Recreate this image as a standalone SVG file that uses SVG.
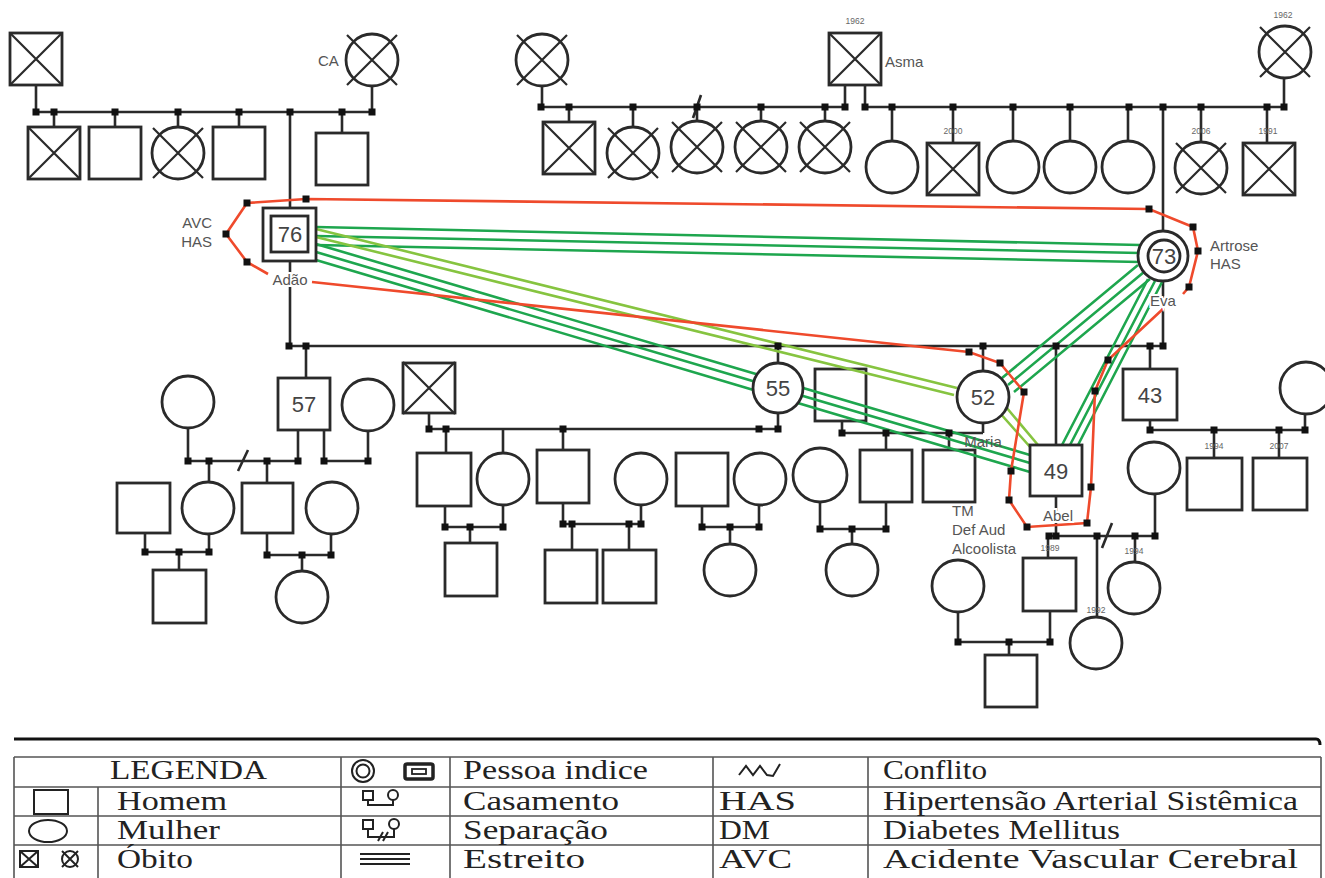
<svg xmlns="http://www.w3.org/2000/svg" width="1325" height="878" viewBox="0 0 1325 878">
<style>
.n{fill:#fff;stroke:#2a2a2a;stroke-width:2.8}
.x{fill:none;stroke:#2a2a2a;stroke-width:2.2}
.k{fill:none;stroke:#2a2a2a;stroke-width:2.6}
.dg{fill:none;stroke:#1ea64e;stroke-width:2.6}
.lg{fill:none;stroke:#86c440;stroke-width:2.6}
.rd{fill:none;stroke:#ef4a2c;stroke-width:2.6}
.d{fill:#111}
.num{font-family:"Liberation Sans",Arial,sans-serif;font-size:22px;fill:#444;text-anchor:middle}
.lb{font-family:"Liberation Sans",Arial,sans-serif;font-size:15px;fill:#555}
.nm{text-anchor:middle;paint-order:stroke;stroke:#fff;stroke-width:4px}
.yr{font-family:"Liberation Sans",Arial,sans-serif;font-size:8.5px;fill:#666;text-anchor:middle}
.tb{fill:none;stroke:#555;stroke-width:1.6}
.lt{font-family:"Liberation Serif","Times New Roman",serif;font-size:27px;fill:#222}
.ls{fill:none;stroke:#222;stroke-width:2}
</style>
<defs>
<rect id="dt" x="-3.5" y="-3.5" width="7" height="7"/>
<path id="xs" d="M-26,-26L26,26M26,-26L-26,26"/>
<path id="xc" d="M-25,-25L25,25M25,-25L-25,25"/>
</defs>

<!-- top-left family -->
<g id="tl-father"><rect class="n" x="10" y="33" width="52" height="52"/><use href="#xs" class="x" x="36" y="59"/></g>
<g id="tl-mother"><circle class="n" cx="372" cy="60" r="26"/><use href="#xc" class="x" x="372" y="60"/></g>
<g id="tl-c1"><rect class="n" x="28" y="127" width="52" height="52"/><use href="#xs" class="x" x="54" y="153"/></g>
<g id="tl-c2"><rect class="n" x="89" y="127" width="52" height="52"/></g>
<g id="tl-c3"><circle class="n" cx="178" cy="153" r="26"/><use href="#xc" class="x" x="178" y="153"/></g>
<g id="tl-c4"><rect class="n" x="213" y="127" width="52" height="52"/></g>
<g id="tl-c5"><rect class="n" x="316" y="133" width="52" height="52"/></g>

<!-- top-middle family -->
<g id="tm-mother"><circle class="n" cx="542" cy="60" r="26"/><use href="#xc" class="x" x="542" y="60"/></g>
<g id="tm-asma"><rect class="n" x="829" y="33" width="52" height="52"/><use href="#xs" class="x" x="855" y="59"/></g>
<g id="tm-c1"><rect class="n" x="543" y="122" width="52" height="52"/><use href="#xs" class="x" x="569" y="148"/></g>
<g id="tm-c2"><circle class="n" cx="633" cy="153" r="26"/><use href="#xc" class="x" x="633" y="153"/></g>
<g id="tm-c3"><circle class="n" cx="697" cy="147" r="26"/><use href="#xc" class="x" x="697" y="147"/></g>
<g id="tm-c4"><circle class="n" cx="761" cy="147" r="26"/><use href="#xc" class="x" x="761" y="147"/></g>
<g id="tm-c5"><circle class="n" cx="825" cy="147" r="26"/><use href="#xc" class="x" x="825" y="147"/></g>

<!-- top-right family -->
<g id="tr-mother"><circle class="n" cx="1285" cy="52" r="26"/><use href="#xc" class="x" x="1285" y="52"/></g>
<g id="tr-c1"><circle class="n" cx="892" cy="167" r="26"/></g>
<g id="tr-c2"><rect class="n" x="927" y="143" width="52" height="52"/><use href="#xs" class="x" x="953" y="169"/></g>
<g id="tr-c3"><circle class="n" cx="1013" cy="167" r="26"/></g>
<g id="tr-c4"><circle class="n" cx="1070" cy="167" r="26"/></g>
<g id="tr-c5"><circle class="n" cx="1128" cy="167" r="26"/></g>
<g id="tr-c6"><circle class="n" cx="1201" cy="168" r="26"/><use href="#xc" class="x" x="1201" y="168"/></g>
<g id="tr-c7"><rect class="n" x="1243" y="143" width="52" height="52"/><use href="#xs" class="x" x="1269" y="169"/></g>

<!-- 57 family -->
<g id="s57"><rect class="n" x="278" y="378" width="52" height="52"/><text class="num" x="304" y="412">57</text></g>
<g id="s57-w1"><circle class="n" cx="188" cy="402" r="26"/></g>
<g id="s57-w2"><circle class="n" cx="368" cy="405" r="26"/></g>
<g id="s57-d"><circle class="n" cx="208" cy="508" r="26"/></g>
<g id="s57-dh"><rect class="n" x="117" y="483" width="53" height="50"/></g>
<g id="s57-s"><rect class="n" x="242" y="483" width="51" height="50"/></g>
<g id="s57-sw"><circle class="n" cx="332" cy="508" r="26"/></g>
<g id="s57-gs"><rect class="n" x="153" y="570" width="53" height="53"/></g>
<g id="s57-gd"><circle class="n" cx="302" cy="597" r="26"/></g>

<!-- 55 family -->
<g id="d55-h"><rect class="n" x="403" y="363" width="52" height="50"/><use href="#xs" class="x" x="429" y="388"/></g>
<g id="d55-c1"><rect class="n" x="417" y="453" width="54" height="53"/></g>
<g id="d55-c1w"><circle class="n" cx="503" cy="479" r="26"/></g>
<g id="d55-c2"><rect class="n" x="537" y="450" width="52" height="53"/></g>
<g id="d55-c2w"><circle class="n" cx="641" cy="479" r="26"/></g>
<g id="d55-c3h"><rect class="n" x="676" y="453" width="52" height="53"/></g>
<g id="d55-c3"><circle class="n" cx="760" cy="479" r="26"/></g>
<g id="d55-g1"><rect class="n" x="445" y="543" width="52" height="53"/></g>
<g id="d55-g2"><rect class="n" x="545" y="550" width="52" height="53"/></g>
<g id="d55-g3"><rect class="n" x="603" y="550" width="53" height="53"/></g>
<g id="d55-g4"><circle class="n" cx="730" cy="570" r="26"/></g>

<!-- Maria family -->
<g id="d52-h"><rect class="n" x="815" y="369" width="51" height="52"/></g>
<g id="d52-c1"><rect class="n" x="860" y="450" width="52" height="52"/></g>
<g id="d52-c1w"><circle class="n" cx="820" cy="475" r="27"/></g>
<g id="d52-c2"><rect class="n" x="923" y="450" width="52" height="52"/></g>
<g id="d52-g1"><circle class="n" cx="852" cy="570" r="26"/></g>

<!-- Abel family -->
<g id="s49-w"><circle class="n" cx="1154" cy="468" r="26"/></g>
<g id="s49-c1"><rect class="n" x="1023" y="558" width="53" height="53"/></g>
<g id="s49-c1w"><circle class="n" cx="958" cy="586" r="26"/></g>
<g id="s49-c2"><circle class="n" cx="1096" cy="643" r="26"/></g>
<g id="s49-c3"><circle class="n" cx="1134" cy="588" r="26"/></g>
<g id="s49-g1"><rect class="n" x="985" y="655" width="52" height="52"/></g>

<!-- 43 family -->
<g id="s43"><rect class="n" x="1123" y="369" width="54" height="51"/><text class="num" x="1150" y="403">43</text></g>
<g id="s43-w"><circle class="n" cx="1306" cy="388" r="26"/></g>
<g id="s43-c1"><rect class="n" x="1187" y="458" width="55" height="52"/></g>
<g id="s43-c2"><rect class="n" x="1253" y="458" width="54" height="52"/></g>

<!-- connectors -->
<g id="connectors">
<path class="k" d="M36,85V112M372,86V112M36,112H372M54,112V127M115,112V127M178,112V127M239,112V127M342,112V133M290,112V208M290,261V346"/>
<path class="k" d="M542,86V107M541,107H845M845,85V107M865,85V107M569,107V122M633,107V127M697,107V121M761,107V121M825,107V121M693,118L701,95"/>
<path class="k" d="M865,107H1285M1284,78V107M892,107V141M953,107V143M1013,107V141M1070,107V141M1128,107V141M1163,107V231M1201,107V142M1267,107V143M1163,281V346"/>
<path class="k" d="M289,346H1163M306,346V378M778,346V363M983,346V371M1056,346V445M1150,346V369"/>
<path class="k" d="M298,430V461M324,430V461M188,428V461M368,431V461M188,461H298M324,461H368M209,461V482M267,461V483M238,471L248,450"/>
<path class="k" d="M145,533V552M209,534V552M145,552H209M179,552V570M267,533V555M331,534V555M267,555H331M302,555V571"/>
<path class="k" d="M429,413V429M778,413V429M429,429H778M446,429V453M503,429V453M563,429V450"/>
<path class="k" d="M445,506V527M503,505V527M445,527H503M470,527V543M563,503V524M641,505V524M563,524H641M572,524V550M629,524V550M702,506V527M759,505V527M702,527H759M730,527V544"/>
<path class="k" d="M842,421V433M983,423V433M842,433H983M886,433V450M949,433V450M820,502V529M886,502V529M820,529H886M852,529V544"/>
<path class="k" d="M1056,496V536M1047,536H1155M1155,494V536M1048,536V558M1097,536V617M1135,536V562M1102,548L1112,523M958,612V642M1050,611V642M958,642H1050M1009,642V655"/>
<path class="k" d="M1150,420V430M1150,430H1305M1305,414V430M1214,430V458M1279,430V458"/>

<!-- closeness (green) -->
<path class="dg" d="M316,227L1140,245M316,236L1140,253M316,245L1140,262"/>
<path class="lg" d="M316,229L957,388M316,237L954,395"/>
<path class="dg" d="M316,244L1030,455M316,252L1030,463M316,260L1030,472"/>
<path class="dg" d="M1138,265L1002,378M1144,272L1008,385M1150,279L1014,392"/>
<path class="dg" d="M1148,279L1062,445M1155,281L1070,445M1162,282L1078,445"/>
<path class="lg" d="M999,412L1031,448M1006,407L1038,445"/>

<!-- conflict (red) -->
<path class="rd" d="M268,274L247,262L226,234L247,203L306,199L1149,209L1193,227L1198,251L1189,287L1183,294"/>
<path class="rd" d="M312,282L969,352L1000,363L1024,392L1011,471L1009,500L1027,527L1087,523L1091,487L1095,391L1108,360L1164,308"/>

<g class="d">
<use href="#dt" x="36" y="112"/><use href="#dt" x="54" y="112"/><use href="#dt" x="115" y="112"/><use href="#dt" x="178" y="112"/><use href="#dt" x="239" y="112"/><use href="#dt" x="290" y="112"/><use href="#dt" x="342" y="112"/><use href="#dt" x="372" y="112"/>
<use href="#dt" x="541" y="107"/><use href="#dt" x="569" y="107"/><use href="#dt" x="633" y="107"/><use href="#dt" x="697" y="107"/><use href="#dt" x="761" y="107"/><use href="#dt" x="825" y="107"/><use href="#dt" x="845" y="107"/>
<use href="#dt" x="865" y="107"/><use href="#dt" x="892" y="107"/><use href="#dt" x="953" y="107"/><use href="#dt" x="1013" y="107"/><use href="#dt" x="1070" y="107"/><use href="#dt" x="1129" y="107"/><use href="#dt" x="1163" y="107"/><use href="#dt" x="1201" y="107"/><use href="#dt" x="1267" y="107"/><use href="#dt" x="1284" y="107"/>
<use href="#dt" x="289" y="346"/><use href="#dt" x="306" y="346"/><use href="#dt" x="778" y="346"/><use href="#dt" x="983" y="346"/><use href="#dt" x="1056" y="346"/><use href="#dt" x="1150" y="346"/><use href="#dt" x="1163" y="346"/>
<use href="#dt" x="188" y="461"/><use href="#dt" x="209" y="461"/><use href="#dt" x="267" y="461"/><use href="#dt" x="298" y="461"/><use href="#dt" x="324" y="461"/><use href="#dt" x="368" y="461"/>
<use href="#dt" x="145" y="552"/><use href="#dt" x="179" y="552"/><use href="#dt" x="209" y="552"/><use href="#dt" x="267" y="555"/><use href="#dt" x="302" y="555"/><use href="#dt" x="331" y="555"/>
<use href="#dt" x="429" y="429"/><use href="#dt" x="446" y="429"/><use href="#dt" x="563" y="429"/><use href="#dt" x="759" y="429"/><use href="#dt" x="778" y="429"/>
<use href="#dt" x="445" y="527"/><use href="#dt" x="470" y="527"/><use href="#dt" x="503" y="527"/><use href="#dt" x="702" y="527"/><use href="#dt" x="730" y="527"/><use href="#dt" x="759" y="527"/>
<use href="#dt" x="563" y="524"/><use href="#dt" x="572" y="524"/><use href="#dt" x="629" y="524"/><use href="#dt" x="641" y="524"/>
<use href="#dt" x="842" y="433"/><use href="#dt" x="886" y="433"/><use href="#dt" x="949" y="433"/><use href="#dt" x="820" y="529"/><use href="#dt" x="852" y="529"/><use href="#dt" x="886" y="529"/>
<use href="#dt" x="1049" y="536"/><use href="#dt" x="1056" y="536"/><use href="#dt" x="1097" y="536"/><use href="#dt" x="1135" y="536"/><use href="#dt" x="1155" y="536"/>
<use href="#dt" x="958" y="642"/><use href="#dt" x="1009" y="642"/><use href="#dt" x="1050" y="642"/>
<use href="#dt" x="1150" y="430"/><use href="#dt" x="1214" y="430"/><use href="#dt" x="1279" y="430"/><use href="#dt" x="1305" y="430"/>
<use href="#dt" x="247" y="203"/><use href="#dt" x="306" y="199"/><use href="#dt" x="226" y="234"/><use href="#dt" x="247" y="262"/>
<use href="#dt" x="1149" y="209"/><use href="#dt" x="1193" y="227"/><use href="#dt" x="1198" y="251"/><use href="#dt" x="1189" y="287"/>
<use href="#dt" x="969" y="352"/><use href="#dt" x="1000" y="363"/><use href="#dt" x="1024" y="392"/><use href="#dt" x="1011" y="471"/><use href="#dt" x="1009" y="500"/><use href="#dt" x="1027" y="527"/><use href="#dt" x="1087" y="523"/><use href="#dt" x="1091" y="487"/><use href="#dt" x="1095" y="391"/><use href="#dt" x="1108" y="360"/>
</g>
</g>

<!-- key persons (drawn above the relationship lines) -->
<g id="adao"><rect class="n" x="263" y="208" width="53" height="53"/><rect class="n" x="271" y="216" width="37" height="36"/><text class="num" x="290" y="242">76</text></g>
<g id="eva"><circle class="n" cx="1163" cy="256" r="25"/><circle class="n" cx="1164" cy="256" r="16"/><text class="num" x="1164" y="264">73</text></g>
<g id="d55"><circle class="n" cx="778" cy="388" r="25"/><text class="num" x="778" y="396">55</text></g>
<g id="maria"><circle class="n" cx="983" cy="397" r="26"/><text class="num" x="983" y="405">52</text></g>
<g id="abel"><rect class="n" x="1030" y="445" width="52" height="51"/><text class="num" x="1056" y="479">49</text></g>

<!-- labels -->
<g id="labels">
<text class="lb" x="318" y="66">CA</text>
<text class="lb" x="885" y="67">Asma</text>
<text class="lb" x="212" y="228" text-anchor="end">AVC</text>
<text class="lb" x="212" y="247" text-anchor="end">HAS</text>
<text class="lb nm" x="290" y="285">Adão</text>
<text class="lb" x="1210" y="251">Artrose</text>
<text class="lb" x="1210" y="269">HAS</text>
<text class="lb nm" x="1163" y="306">Eva</text>
<text class="lb" x="983" y="447" text-anchor="middle">Maria</text>
<text class="lb nm" x="1058" y="521">Abel</text>
<text class="lb" x="952" y="516">TM</text>
<text class="lb" x="952" y="535">Def Aud</text>
<text class="lb" x="952" y="554">Alcoolista</text>
<text class="yr" x="855" y="24">1962</text>
<text class="yr" x="1283" y="18">1962</text>
<text class="yr" x="953" y="134">2000</text>
<text class="yr" x="1201" y="134">2006</text>
<text class="yr" x="1268" y="134">1991</text>
<text class="yr" x="1214" y="449">1994</text>
<text class="yr" x="1279" y="449">2007</text>
<text class="yr" x="1050" y="551">1989</text>
<text class="yr" x="1134" y="554">1994</text>
<text class="yr" x="1096" y="613">1992</text>
</g>

<!-- legend -->
<g id="legend">
<path d="M14,739H1316Q1320,739 1320,745" fill="none" stroke="#111" stroke-width="3"/>
<path class="tb" d="M14,757H1321M14,787H1321M14,816H1321M14,845H1321M14,757V878M98,787V878M341,757V878M450,757V878M713,757V878M868,757V878M1321,757V878"/>
<text class="lt" x="110" y="779" textLength="157" lengthAdjust="spacingAndGlyphs">LEGENDA</text>
<circle class="ls" cx="363" cy="771" r="11" stroke-width="2.5"/>
<circle class="ls" cx="363" cy="771" r="6.5" stroke-width="2.5"/>
<rect x="405" y="764" width="28" height="15" rx="2" fill="none" stroke="#222" stroke-width="3.5"/>
<rect x="412" y="769" width="14" height="5" fill="none" stroke="#222" stroke-width="1.8"/>
<text class="lt" x="463" y="779" textLength="185" lengthAdjust="spacingAndGlyphs">Pessoa indice</text>
<path class="ls" d="M739,775L746,766L753,775L760,766L767,775L773,776L780,764"/>
<text class="lt" x="883" y="779" textLength="104" lengthAdjust="spacingAndGlyphs">Conflito</text>

<rect class="ls" x="34" y="790" width="34" height="24" stroke-width="2.5"/>
<text class="lt" x="117" y="810" textLength="110" lengthAdjust="spacingAndGlyphs">Homem</text>
<rect class="ls" x="363" y="791" width="10" height="9"/>
<circle class="ls" cx="393" cy="795" r="5"/>
<path class="ls" d="M368,800V805H393V800"/>
<text class="lt" x="463" y="810" textLength="156" lengthAdjust="spacingAndGlyphs">Casamento</text>
<text class="lt" x="719" y="810" textLength="77" lengthAdjust="spacingAndGlyphs">HAS</text>
<text class="lt" x="883" y="810" textLength="415" lengthAdjust="spacingAndGlyphs">Hipertensão Arterial Sistêmica</text>

<ellipse class="ls" cx="48" cy="831" rx="19" ry="11" stroke-width="2.5"/>
<text class="lt" x="117" y="839" textLength="103" lengthAdjust="spacingAndGlyphs">Mulher</text>
<rect class="ls" x="363" y="820" width="10" height="9"/>
<circle class="ls" cx="394" cy="824" r="5"/>
<path class="ls" d="M368,829V837H394V829M378,841L383,832M383,841L388,832"/>
<text class="lt" x="463" y="839" textLength="145" lengthAdjust="spacingAndGlyphs">Separação</text>
<text class="lt" x="719" y="839" textLength="51" lengthAdjust="spacingAndGlyphs">DM</text>
<text class="lt" x="883" y="839" textLength="237" lengthAdjust="spacingAndGlyphs">Diabetes Mellitus</text>

<rect class="ls" x="20" y="851" width="18" height="16"/>
<path class="ls" d="M20,851L38,867M38,851L20,867"/>
<circle class="ls" cx="70" cy="859" r="8"/>
<path class="ls" d="M62,851L78,867M78,851L62,867"/>
<text class="lt" x="117" y="868" textLength="76" lengthAdjust="spacingAndGlyphs">Óbito</text>
<path class="ls" d="M360,854H410M360,859H410M360,864H410" stroke-width="2.5"/>
<text class="lt" x="463" y="868" textLength="122" lengthAdjust="spacingAndGlyphs">Estreito</text>
<text class="lt" x="719" y="868" textLength="73" lengthAdjust="spacingAndGlyphs">AVC</text>
<text class="lt" x="883" y="868" textLength="415" lengthAdjust="spacingAndGlyphs">Acidente Vascular Cerebral</text>
</g>
</svg>
